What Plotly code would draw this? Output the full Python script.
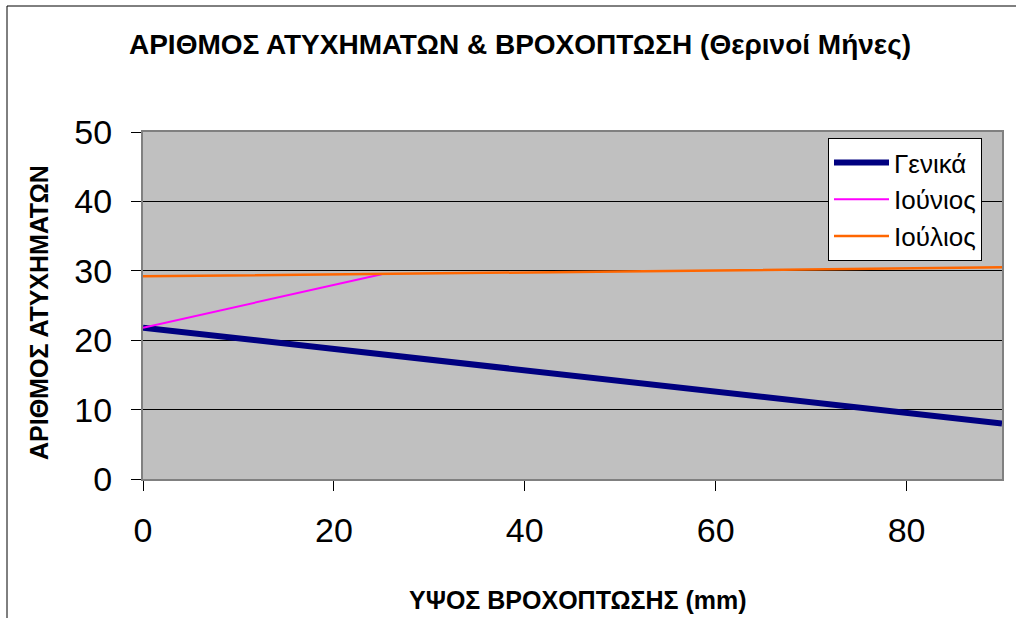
import plotly.graph_objects as go

# Data
x_gen = [0, 20, 40, 60, 80, 90]
y_gen = [21.8, 18.7, 15.7, 12.6, 9.5, 8.0]
x_jun = [0, 25]
y_jun = [21.8, 29.5]
x_jul = [0, 25, 50, 90]
y_jul = [29.2, 29.5, 29.9, 30.5]
x_ticks = [0, 20, 40, 60, 80]
y_ticks = [0, 10, 20, 30, 40, 50]

FONT = "Liberation Sans, Arial, sans-serif"

fig = go.Figure()
fig.add_trace(go.Scatter(x=x_gen, y=y_gen, mode="lines", name="Γενικά",
                         line=dict(color="#000080", width=6)))
fig.add_trace(go.Scatter(x=x_jun, y=y_jun, mode="lines", name="Ιούνιος",
                         line=dict(color="#FF00FF", width=2)))
fig.add_trace(go.Scatter(x=x_jul, y=y_jul, mode="lines", name="Ιούλιος",
                         line=dict(color="#FF6600", width=2.5)))

L, R, T, B = 143, 14, 132, 139
W, H = 1016, 618
pw, ph = W - L - R, H - T - B

def px_x(p):
    return (p - L) / pw

def px_y(p):
    return (H - B - p) / ph

fig.update_layout(
    width=W, height=H,
    margin=dict(l=L, r=R, t=T, b=B, pad=0),
    paper_bgcolor="white",
    plot_bgcolor="#C0C0C0",
    font=dict(family=FONT, color="black"),
    title=dict(text="<b>ΑΡΙΘΜΟΣ ΑΤΥΧΗΜΑΤΩΝ & ΒΡΟΧΟΠΤΩΣΗ (Θερινοί Μήνες)</b>",
               font=dict(size=28, family=FONT, color="black"),
               x=520 / W, xanchor="center", y=1 - 44 / H, yanchor="middle"),
    xaxis=dict(range=[0, 90], tickvals=x_ticks, showgrid=False, zeroline=False,
               ticks="outside", ticklen=10, tickcolor="black", tickwidth=1,
               tickfont=dict(size=34, family=FONT), ticklabelstandoff=10,
               showline=True, linecolor="#808080", linewidth=2, mirror=True),
    yaxis=dict(range=[0, 50], tickvals=y_ticks, showgrid=True, gridcolor="black",
               gridwidth=1, zeroline=False,
               ticks="outside", ticklen=10, tickcolor="black", tickwidth=1,
               tickfont=dict(size=34, family=FONT), ticklabelstandoff=12,
               showline=True, linecolor="#808080", linewidth=2, mirror=True),
    legend=dict(x=px_x(982), xanchor="right", y=px_y(138), yanchor="top",
                bgcolor="white", bordercolor="black", borderwidth=1,
                font=dict(size=26, family=FONT), itemwidth=55,
                tracegroupgap=0),
    showlegend=True,
)

# Axis titles as annotations for exact placement
fig.add_annotation(text="<b>ΥΨΟΣ ΒΡΟΧΟΠΤΩΣΗΣ (mm)</b>", xref="paper", yref="paper",
                   x=px_x(578), y=px_y(600), xanchor="center", yanchor="middle",
                   showarrow=False, font=dict(size=25, family=FONT, color="black"))
fig.add_annotation(text="<b>ΑΡΙΘΜΟΣ ΑΤΥΧΗΜΑΤΩΝ</b>", xref="paper", yref="paper",
                   x=px_x(39), y=px_y(313), xanchor="center", yanchor="middle",
                   textangle=-90, showarrow=False,
                   font=dict(size=25, family=FONT, color="black"))

fig.add_shape(type="rect", xref="paper", yref="paper",
              x0=px_x(7), x1=px_x(W + 20), y0=px_y(H + 20), y1=px_y(6),
              line=dict(color="black", width=1), fillcolor="rgba(0,0,0,0)",
              layer="above")

fig.write_html("out.html")
